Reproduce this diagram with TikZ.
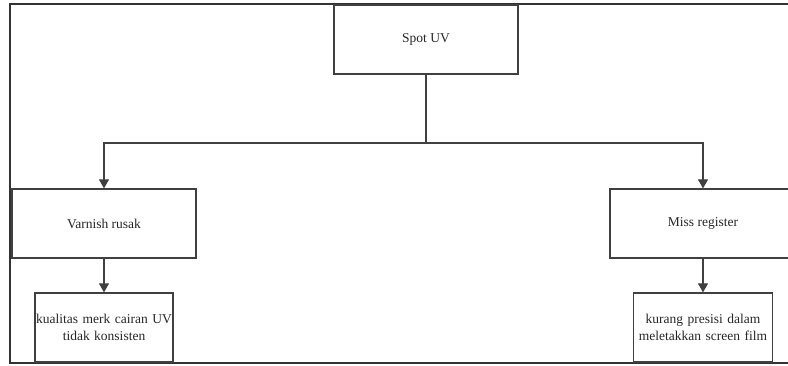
\documentclass[tikz,border=0pt]{standalone}
\usepackage{fontspec}
\setmainfont{Liberation Serif}
\usetikzlibrary{arrows.meta}

\begin{document}
\begin{tikzpicture}[x=1pt,y=-1pt,>={Triangle[width=10pt,length=9pt]},line width=1.3pt,
  every node/.style={font=\fontsize{13.5}{17}\selectfont,text=black!85}]
\useasboundingbox (0,0) rectangle (788,366);
\clip (0,0) rectangle (788,366);

% outer frame (cut off on the right)
\draw[black!80] (788,4) -| (10,363) -- (788,363);

\begin{scope}[every node/.append style={draw=black!75,rectangle,inner sep=0pt,align=center}]
  \node[minimum width=184pt,minimum height=69pt] (S) at (426,39.5) {Spot UV};
  \node[minimum width=184pt,minimum height=69pt] (V) at (104,223.5) {Varnish rusak};
  \node[minimum width=186pt,minimum height=69pt] (M) at (703,223.5) {Miss register};
  \node[minimum width=138pt,minimum height=69pt,text width=138pt] (K) at (104,327.5) {kualitas merk cairan UV\\tidak konsisten};
  \node[minimum width=139pt,minimum height=69pt,text width=139pt] (P) at (703,327.5) {kurang presisi dalam\\meletakkan screen film};
\end{scope}
\coordinate (J) at (426,143);

\draw[black!75] (S) -- (J);
\draw[->,black!75] (J) -| (V);
\draw[->,black!75] (J) -| (M);
\draw[->,black!75] (V) -- (K);
\draw[->,black!75] (M) -- (P);

\end{tikzpicture}
\end{document}
